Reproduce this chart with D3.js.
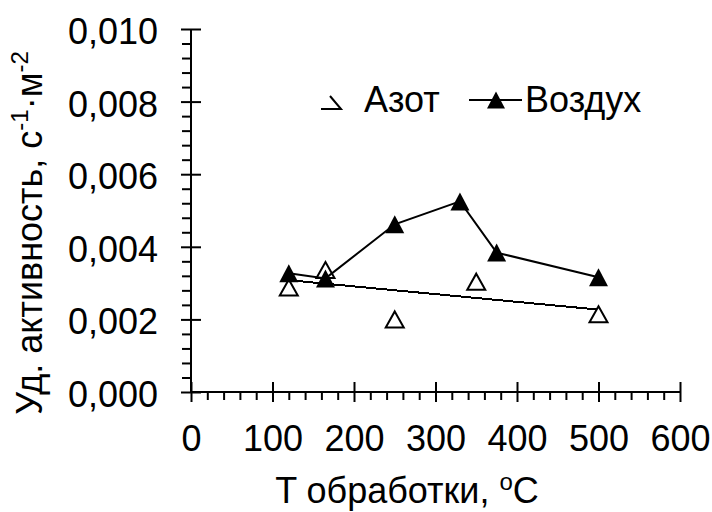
<!DOCTYPE html>
<html>
<head>
<meta charset="utf-8">
<script src="https://cdn.jsdelivr.net/npm/d3@7"></script>
<style>
  body { margin: 0; background: #fff; }
  svg { display: block; font-family: "Liberation Sans", Arial, sans-serif; }
</style>
</head>
<body>
<svg id="chart" width="712" height="512"></svg>
<script>
// data
const tempNitrogen = [120, 165, 250, 350, 500];
const actNitrogen = [0.00288, 0.00336, 0.00200, 0.00304, 0.00214];

const tempAir = [120, 165, 250, 330, 375, 500];
const actAir = [0.00327, 0.00313, 0.00462, 0.00525, 0.00384, 0.00316];

// linear trend for nitrogen, endpoints as drawn
const trendTemp = [120, 500];
const trendAct = [0.00308, 0.00227];

const xTicks = [0, 100, 200, 300, 400, 500, 600];
const yTicks = [0, 0.002, 0.004, 0.006, 0.008, 0.010];
const xMinorStep = 20;
const yMinorStep = 0.0004;

const seriesNames = ["Азот", "Воздух"];

const width = 712;
const height = 512;
const fontSize = 36;

const svg = d3.select("#chart");

// plot area edges (axis positions)
const margin = { left: 191, right: 680, top: 29, bottom: 392 };

const xScale = d3.scaleLinear().domain([0, 600]).range([margin.left, margin.right]);
const yScale = d3.scaleLinear().domain([0, 0.010]).range([margin.bottom, margin.top]);

const ruLocale = d3.formatLocale({ decimal: ",", thousands: " ", grouping: [3], currency: ["", ""] });
const fmtY = ruLocale.format(".3f");

// triangle marker path centered on 0,0
const tri = (w, h) => `M0,${-h / 2}L${w / 2},${h / 2}L${-w / 2},${h / 2}Z`;

// ---- x axis
const xMinor = d3.range(0, 600 + 1e-9, xMinorStep).filter(v => v % 100 !== 0);
svg.append("g")
  .attr("transform", `translate(0, ${margin.bottom})`)
  .call(d3.axisBottom(xScale).tickValues(xMinor).tickSize(8).tickSizeOuter(0).tickFormat(""))
  .call(g => g.select(".domain").remove())
  .call(g => g.selectAll("line").attr("stroke-width", 2));

const gx = svg.append("g")
  .attr("transform", `translate(0, ${margin.bottom})`)
  .call(d3.axisBottom(xScale).tickValues(xTicks).tickSize(10).tickSizeOuter(0))
  ;
gx.select(".domain").attr("stroke-width", 2).attr("d", `M${margin.left},0H${margin.right}`);
gx.selectAll(".tick line").attr("y1", -10).attr("stroke-width", 2);
gx.selectAll(".tick text")
  .attr("y", 59).attr("dy", 0)
  .attr("fill", "#000")
  .style("font-size", fontSize + "px")
  .style("font-family", "'Liberation Sans', Arial, sans-serif");

// ---- y axis
const yMinor = d3.range(0, 0.010 + 1e-9, yMinorStep)
  .filter(v => Math.abs(v / 0.002 - Math.round(v / 0.002)) > 1e-6);
svg.append("g")
  .attr("transform", `translate(${margin.left}, 0)`)
  .call(d3.axisLeft(yScale).tickValues(yMinor).tickSize(9).tickSizeOuter(0).tickFormat(""))
  .call(g => g.select(".domain").remove())
  .call(g => g.selectAll("line").attr("stroke-width", 2));

const gy = svg.append("g")
  .attr("transform", `translate(${margin.left}, 0)`)
  .call(d3.axisLeft(yScale).tickValues(yTicks).tickSize(10).tickSizeOuter(0).tickFormat(fmtY))
  ;
gy.select(".domain").attr("stroke-width", 2).attr("d", `M0,${margin.bottom}V${margin.top}`);
gy.selectAll(".tick line").attr("x1", 10).attr("stroke-width", 2);
gy.selectAll(".tick text")
  .attr("x", -33).attr("dy", "0.4em")
  .attr("fill", "#000")
  .style("font-size", fontSize + "px")
  .style("font-family", "'Liberation Sans', Arial, sans-serif");

// ---- trend line (nitrogen)
const trendData = trendTemp.map((t, i) => ({ t, a: trendAct[i] }));
const line = d3.line().x(d => xScale(d.t)).y(d => yScale(d.a));
svg.append("path")
  .attr("d", line(trendData))
  .attr("fill", "none")
  .attr("stroke", "#000")
  .attr("stroke-width", 2)
  .attr("shape-rendering", "crispEdges");

// ---- nitrogen markers (hollow)
const nitroData = tempNitrogen.map((t, i) => ({ t, a: actNitrogen[i] }));
svg.append("g").selectAll("path")
  .data(nitroData)
  .join("path")
  .attr("transform", d => `translate(${xScale(d.t)}, ${yScale(d.a)})`)
  .attr("d", tri(18, 16))
  .attr("fill", "#fff")
  .attr("stroke", "#000")
  .attr("stroke-width", 2)
  .attr("stroke-linejoin", "miter");

// ---- air line + filled markers
const airData = tempAir.map((t, i) => ({ t, a: actAir[i] }));
svg.append("path")
  .attr("d", line(airData))
  .attr("fill", "none")
  .attr("stroke", "#000")
  .attr("stroke-width", 2);

svg.append("g").selectAll("path")
  .data(airData)
  .join("path")
  .attr("transform", d => `translate(${xScale(d.t)}, ${yScale(d.a)})`)
  .attr("d", tri(19, 18))
  .attr("fill", "#000");

// ---- legend
const legend = svg.append("g");
// nitrogen entry: clipped triangle glyph as in the original
legend.append("path")
  .attr("d", "M321,109H341L330,96")
  .attr("fill", "none")
  .attr("stroke", "#000")
  .attr("stroke-width", 2);
legend.append("text")
  .attr("x", 364).attr("y", 112)
  .style("font-size", fontSize + "px")
  .text(seriesNames[0]);

legend.append("line")
  .attr("x1", 469).attr("x2", 522)
  .attr("y1", 100).attr("y2", 100)
  .attr("stroke", "#000").attr("stroke-width", 2);
legend.append("path")
  .attr("transform", "translate(496, 100)")
  .attr("d", tri(18, 17))
  .attr("fill", "#000");
legend.append("text")
  .attr("x", 525).attr("y", 112)
  .style("font-size", fontSize + "px")
  .text(seriesNames[1]);

// ---- axis titles
const xTitle = svg.append("text")
  .attr("x", 407).attr("y", 503)
  .attr("text-anchor", "middle")
  .style("font-size", fontSize + "px");
xTitle.append("tspan").text("T обработки, ");
xTitle.append("tspan").attr("dy", -13).style("font-size", "24px").text("o");
xTitle.append("tspan").attr("dy", 13).text("C");

const yTitle = svg.append("text")
  .attr("transform", "translate(42, 233) rotate(-90)")
  .attr("text-anchor", "middle")
  .style("font-size", fontSize + "px");
yTitle.append("tspan").text("Уд. активность, с");
yTitle.append("tspan").attr("dy", -14).style("font-size", "24px").text("-1");
yTitle.append("tspan").attr("dy", 14).text("·м");
yTitle.append("tspan").attr("dy", -14).style("font-size", "24px").text("-2");
</script>
</body>
</html>
